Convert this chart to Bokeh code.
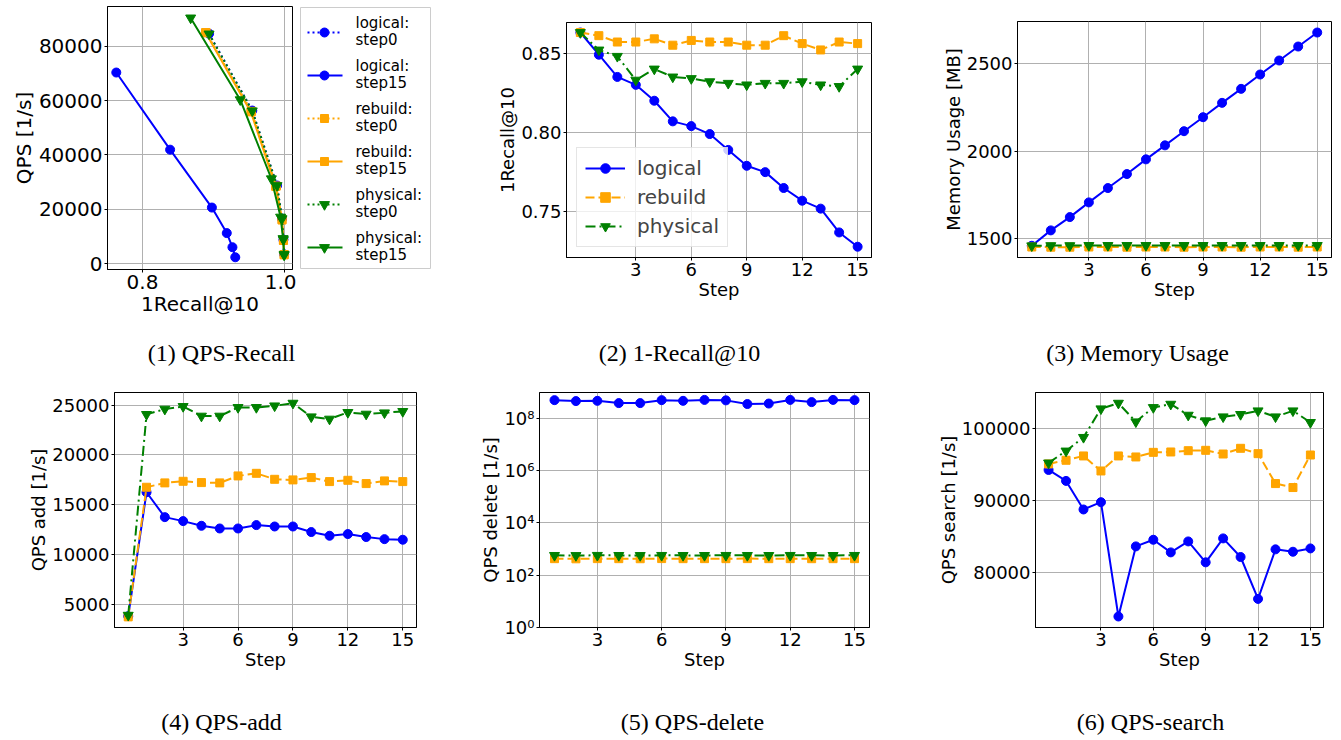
from bokeh.plotting import figure
from bokeh.layouts import row, column
from bokeh.models import (Range1d, FixedTicker, PrintfTickFormatter, CustomJSTickFormatter,
                          Legend, LegendItem, Label, Spacer)
from bokeh.core.properties import value
from bokeh.embed import file_html
from bokeh.resources import INLINE

# ---------------- data ----------------
steps = [0, 1, 2, 3, 4, 5, 6, 7, 8, 9, 10, 11, 12, 13, 14, 15]
steps_del = [1, 2, 3, 4, 5, 6, 7, 8, 9, 10, 11, 12, 13, 14, 15]

# (1) QPS-Recall
qr_logical_step0_recall = [0.894, 0.955, 0.990, 0.997, 0.999, 1.000]
qr_logical_step0_qps = [84600, 56300, 28700, 16500, 8800, 3400]
qr_logical_step15_recall = [0.763, 0.839, 0.898, 0.919, 0.927, 0.931]
qr_logical_step15_qps = [70300, 41900, 20600, 11200, 6000, 2300]
qr_rebuild_step0_recall = [0.890, 0.954, 0.989, 0.997, 0.999, 1.000]
qr_rebuild_step0_qps = [84900, 56000, 28500, 16200, 8600, 3300]
qr_rebuild_step15_recall = [0.889, 0.953, 0.988, 0.997, 0.999, 1.000]
qr_rebuild_step15_qps = [85000, 55800, 28400, 16000, 8500, 3200]
qr_physical_step0_recall = [0.894, 0.955, 0.990, 0.997, 0.999, 1.000]
qr_physical_step0_qps = [84500, 56200, 28700, 16500, 8800, 3400]
qr_physical_step15_recall = [0.868, 0.938, 0.982, 0.995, 0.9985, 1.000]
qr_physical_step15_qps = [90400, 60300, 31200, 17100, 9200, 3100]

legend1_line1 = ["logical:", "logical:", "rebuild:", "rebuild:", "physical:", "physical:"]
legend1_line2 = ["step0", "step15", "step0", "step15", "step0", "step15"]

# (2) 1-Recall@10
recall_logical = [0.863, 0.849, 0.835, 0.830, 0.820, 0.807, 0.804, 0.799, 0.789, 0.779,
                  0.775, 0.765, 0.757, 0.752, 0.737, 0.728]
recall_rebuild = [0.863, 0.861, 0.857, 0.857, 0.859, 0.855, 0.858, 0.857, 0.857, 0.855,
                  0.855, 0.861, 0.856, 0.852, 0.857, 0.856]
recall_physical = [0.863, 0.852, 0.848, 0.833, 0.840, 0.835, 0.834, 0.832, 0.831, 0.830,
                   0.831, 0.831, 0.832, 0.830, 0.829, 0.840]

# (3) Memory usage [MB]
mem_logical = [1460, 1548, 1624, 1708, 1790, 1870, 1954, 2034, 2115, 2195, 2277, 2357,
               2439, 2519, 2599, 2679]
mem_rebuild = [1453, 1452, 1452, 1453, 1453, 1452, 1453, 1453, 1452, 1453, 1453, 1452,
               1453, 1453, 1452, 1453]
mem_physical = [1460, 1461, 1461, 1462, 1462, 1462, 1462, 1462, 1462, 1462, 1462, 1462,
                1462, 1462, 1462, 1462]

# (4) QPS add
add_logical = [3800, 16250, 13750, 13350, 12880, 12610, 12610, 12950, 12810, 12810,
               12250, 11880, 12050, 11750, 11540, 11480]
add_rebuild = [3730, 16750, 17190, 17350, 17220, 17190, 17890, 18150, 17550, 17490,
               17720, 17320, 17450, 17120, 17390, 17320]
add_physical = [3900, 24070, 24600, 24870, 23900, 23900, 24770, 24770, 24930, 25200,
                23830, 23600, 24270, 24100, 24230, 24370]

# (5) QPS delete
del_logical = [5.0e8, 4.6e8, 4.7e8, 3.85e8, 3.85e8, 5.0e8, 4.7e8, 5.1e8, 4.9e8, 3.55e8,
               3.7e8, 5.1e8, 4.2e8, 5.1e8, 5.0e8]
del_rebuild = [430, 425, 432, 430, 428, 433, 430, 431, 430, 432, 430, 431, 429, 430, 431]
del_physical = [575, 570, 578, 575, 572, 576, 575, 574, 576, 575, 574, 576, 575, 574, 576]

# (6) QPS search
search_logical = [94240, 92720, 88760, 89770, 73920, 83640, 84560, 82810, 84330, 81430,
                  84750, 82170, 76360, 83230, 82900, 83360]
search_rebuild = [95070, 95580, 96180, 94100, 96180, 96040, 96680, 96730, 96910, 96960,
                  96450, 97240, 96500, 92350, 91800, 96310]
search_physical = [95210, 96870, 98760, 102720, 103500, 100920, 102900, 103360, 101840,
                   101060, 101610, 101940, 102440, 101610, 102440, 100830]

captions_top = ["(1) QPS-Recall", "(2) 1-Recall@10", "(3) Memory Usage"]
captions_bottom = ["(4) QPS-add", "(5) QPS-delete", "(6) QPS-search"]

# ---------------- style ----------------
BLUE = "#0000ff"
ORANGE = "#ffa500"
GREEN = "#008000"
FONT = "DejaVu Sans"
SERIF = "Liberation Serif"
DASH = "9 4"
DASHDOT = "10 4 2 4"
DOT = "2 3"


def make_fig(w, h, mbl, mbr, mbt, mbb, xr, yr, fs="18px", y_type="linear"):
    p = figure(width=w, height=h, x_range=Range1d(*xr), y_range=Range1d(*yr),
               y_axis_type=y_type, toolbar_location=None, output_backend="svg",
               min_border_left=mbl, min_border_right=mbr, min_border_top=mbt,
               min_border_bottom=mbb)
    p.outline_line_color = "black"
    p.outline_line_width = 1
    p.outline_line_alpha = 1
    p.grid.grid_line_color = "#b0b0b0"
    p.grid.grid_line_width = 1
    for ax in (p.xaxis[0], p.yaxis[0]):
        ax.axis_line_color = "black"
        ax.major_tick_line_color = "black"
        ax.minor_tick_line_color = None
        ax.major_tick_in = 0
        ax.major_tick_out = 3
        ax.major_label_text_font = FONT
        ax.major_label_text_font_size = fs
        ax.major_label_text_color = "black"
        ax.axis_label_text_font = FONT
        ax.axis_label_text_font_size = fs
        ax.axis_label_text_font_style = "normal"
        ax.axis_label_text_color = "black"
        ax.major_label_standoff = 2
        ax.axis_label_standoff = 0
    return p


def series(p, x, y, color, marker, dash, size):
    l = p.line(x, y, line_color=color, line_width=2, line_dash=dash)
    s = p.scatter(x, y, marker=marker, size=size, fill_color=color, line_color=color)
    return [l, s]


def three(p, x, a, b, c):
    r1 = series(p, x, a, BLUE, "circle", "solid", 9)
    r2 = series(p, x, b, ORANGE, "square", DASH, 8)
    r3 = series(p, x, c, GREEN, "inverted_triangle", DASHDOT, 10)
    return r1, r2, r3


step_ticker = FixedTicker(ticks=[3, 6, 9, 12, 15])
int_fmt = PrintfTickFormatter(format="%d")

# top row: all plots share the same top/bottom borders (6 / 64);
# vertical offsets are made with spacers
TOP_B, BOT_B = 6, 64

# ---------------- (1) QPS-Recall ----------------
p1 = make_fig(296, 333, 107, 4, TOP_B, BOT_B, (0.7506, 1.0118), (-2200, 94600), fs="20px")
p1.xaxis.axis_label = "1Recall@10"
p1.yaxis.axis_label = "QPS [1/s]"
p1.xaxis.ticker = FixedTicker(ticks=[0.8, 1.0])
p1.xaxis.formatter = PrintfTickFormatter(format="%.1f")
p1.yaxis.ticker = FixedTicker(ticks=[0, 20000, 40000, 60000, 80000])
p1.yaxis.formatter = int_fmt
series(p1, qr_logical_step0_recall, qr_logical_step0_qps, BLUE, "circle", DOT, 9)
series(p1, qr_logical_step15_recall, qr_logical_step15_qps, BLUE, "circle", "solid", 9)
series(p1, qr_rebuild_step0_recall, qr_rebuild_step0_qps, ORANGE, "square", DOT, 8)
series(p1, qr_rebuild_step15_recall, qr_rebuild_step15_qps, ORANGE, "square", "solid", 8)
series(p1, qr_physical_step0_recall, qr_physical_step0_qps, GREEN, "inverted_triangle", DOT, 10)
series(p1, qr_physical_step15_recall, qr_physical_step15_qps, GREEN, "inverted_triangle", "solid", 10)

# legend of panel (1), drawn in its own small canvas; its frame spans page y 6..269,
# and the range is set so that one unit equals one pixel (y downward)
LW = 144
lg = figure(width=LW, height=333, x_range=Range1d(0, LW), y_range=Range1d(269, 6),
            toolbar_location=None, output_backend="svg",
            min_border_left=0, min_border_right=0, min_border_top=TOP_B,
            min_border_bottom=BOT_B, x_axis_location=None, y_axis_location=None)
lg.grid.visible = False
lg.outline_line_color = None
lg.quad(left=4, right=134, top=7, bottom=268, fill_color="white",
        line_color="#cccccc", line_width=1)
leg_colors = [BLUE, BLUE, ORANGE, ORANGE, GREEN, GREEN]
leg_markers = ["circle", "circle", "square", "square", "inverted_triangle", "inverted_triangle"]
leg_dashes = [DOT, "solid", DOT, "solid", DOT, "solid"]
leg_sizes = [9, 9, 8, 8, 10, 10]
for i in range(6):
    gy = 32 + 43 * i
    lg.line([11, 46], [gy, gy], line_color=leg_colors[i], line_width=2, line_dash=leg_dashes[i])
    lg.scatter([28], [gy], marker=leg_markers[i], size=leg_sizes[i],
               fill_color=leg_colors[i], line_color=leg_colors[i])
    lg.add_layout(Label(x=59, y=gy - 10, text=legend1_line1[i], text_font=FONT,
                        text_font_size="15px", text_baseline="middle", text_align="left",
                        text_color="black"))
    lg.add_layout(Label(x=59, y=gy + 7, text=legend1_line2[i], text_font=FONT,
                        text_font_size="15px", text_baseline="middle", text_align="left",
                        text_color="black"))

# ---------------- (2) 1-Recall@10 ----------------
p2 = make_fig(460, 305, 126, 29, TOP_B, BOT_B, (-0.75, 15.75), (0.7212, 0.8693))
p2.xaxis.axis_label = "Step"
p2.yaxis.axis_label = "1Recall@10"
p2.xaxis.ticker = step_ticker
p2.yaxis.ticker = FixedTicker(ticks=[0.75, 0.80, 0.85])
p2.yaxis.formatter = PrintfTickFormatter(format="%.2f")
r1, r2, r3 = three(p2, steps, recall_logical, recall_rebuild, recall_physical)
leg2 = Legend(items=[LegendItem(label="logical", renderers=r1),
                     LegendItem(label="rebuild", renderers=r2),
                     LegendItem(label="physical", renderers=r3)],
              location="bottom_left")
leg2.label_text_font = FONT
leg2.label_text_font_size = "20px"
leg2.glyph_width = 40
leg2.glyph_height = 24
leg2.label_height = 24
leg2.label_standoff = 12
leg2.spacing = 5
leg2.padding = 8
leg2.margin = 10
leg2.border_line_color = "#cccccc"
leg2.background_fill_alpha = 0.8
p2.add_layout(leg2)

# ---------------- (3) Memory ----------------
p3 = make_fig(436, 306, 117, 5, TOP_B, BOT_B, (-0.75, 15.75), (1393, 2742))
p3.xaxis.axis_label = "Step"
p3.yaxis.axis_label = "Memory Usage [MB]"
p3.xaxis.ticker = step_ticker
p3.yaxis.ticker = FixedTicker(ticks=[1500, 2000, 2500])
p3.yaxis.formatter = int_fmt
three(p3, steps, mem_logical, mem_rebuild, mem_physical)

# ---------------- (4) QPS add ----------------
BOT_H = 317
p4 = make_fig(470, BOT_H, 114, 54, 19, 63, (-0.75, 15.75), (2663, 26269))
p4.xaxis.axis_label = "Step"
p4.yaxis.axis_label = "QPS add [1/s]"
p4.xaxis.ticker = step_ticker
p4.yaxis.ticker = FixedTicker(ticks=[5000, 10000, 15000, 20000, 25000])
p4.yaxis.formatter = int_fmt
three(p4, steps, add_logical, add_rebuild, add_physical)

# ---------------- (5) QPS delete ----------------
p5 = make_fig(435, BOT_H, 69, 36, 19, 63, (0.3, 15.7), (1, 9.8e8), y_type="log")
p5.xaxis.axis_label = "Step"
p5.yaxis.axis_label = "QPS delete [1/s]"
p5.xaxis.ticker = step_ticker
p5.yaxis.ticker = FixedTicker(ticks=[1, 1e2, 1e4, 1e6, 1e8])
p5.yaxis.formatter = CustomJSTickFormatter(code="""
const sup = {'0':'\u2070','1':'\u00b9','2':'\u00b2','3':'\u00b3','4':'\u2074',
             '5':'\u2075','6':'\u2076','7':'\u2077','8':'\u2078','9':'\u2079'};
const e = Math.round(Math.log10(tick));
return '10' + String(e).split('').map(c => sup[c]).join('');
""")
three(p5, steps_del, del_logical, del_rebuild, del_physical)

# ---------------- (6) QPS search ----------------
p6 = make_fig(431, BOT_H, 130, 13, 19, 63, (-0.75, 15.75), (72396, 104977))
p6.xaxis.axis_label = "Step"
p6.yaxis.axis_label = "QPS search [1/s]"
p6.xaxis.ticker = step_ticker
p6.yaxis.ticker = FixedTicker(ticks=[80000, 90000, 100000])
p6.yaxis.formatter = int_fmt
three(p6, steps, search_logical, search_rebuild, search_physical)


# ---------------- captions ----------------
def caption(w, h, cx, cy_from_top, text):
    c = figure(width=w, height=h, x_range=Range1d(0, w), y_range=Range1d(0, h),
               toolbar_location=None, output_backend="svg", min_border=0,
               x_axis_location=None, y_axis_location=None)
    c.grid.visible = False
    c.outline_line_color = None
    c.add_layout(Label(x=cx, y=h - cy_from_top, text=text, text_align="center",
                       text_baseline="middle", text_font=SERIF, text_font_size="24px",
                       text_color="black"))
    return c


c1 = caption(440, 40, 221, 19, captions_top[0])
c2 = caption(460, 40, 239, 19, captions_top[1])
c3 = caption(436, 40, 237, 19, captions_top[2])
c4 = caption(470, 50, 221, 31, captions_bottom[0])
c5 = caption(435, 50, 222, 31, captions_bottom[1])
c6 = caption(431, 50, 245, 31, captions_bottom[2])

top_row = row(p1, lg,
              column(Spacer(width=460, height=16), p2),
              column(Spacer(width=436, height=15), p3))
layout = column(top_row, row(c1, c2, c3), row(p4, p5, p6), row(c4, c5, c6))

with open("out.html", "w") as fh:
    fh.write(file_html(layout, INLINE))
